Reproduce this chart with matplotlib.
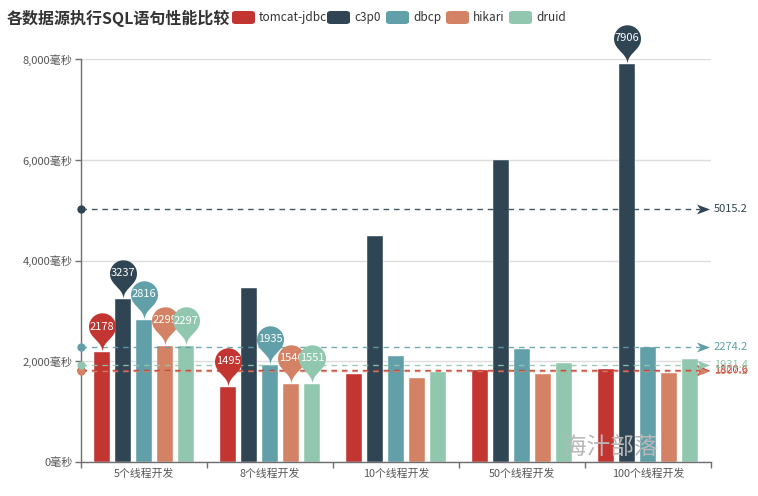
import matplotlib
matplotlib.use('Agg')
import matplotlib.pyplot as plt
import numpy as np
from matplotlib.path import Path
from matplotlib.patches import FancyBboxPatch

plt.rcParams['font.family'] = ['Noto Sans CJK SC', 'DejaVu Sans']

# ---------------- data ----------------
categories = ['5个线程开发', '8个线程开发', '10个线程开发', '50个线程开发', '100个线程开发']
series_names = ['tomcat-jdbc', 'c3p0', 'dbcp', 'hikari', 'druid']
tomcat_jdbc = [2178, 1495, 1755, 1820, 1855]
c3p0 = [3237, 3445, 4488, 6000, 7906]
dbcp = [2816, 1935, 2095, 2245, 2280]
hikari = [2299, 1546, 1677, 1747, 1767]
druid = [2297, 1551, 1795, 1975, 2039]
yticks = [0, 2000, 4000, 6000, 8000]
title = '各数据源执行SQL语句性能比较'
watermark = '海汁部落'
colors = ['#c23531', '#2f4554', '#61a0a8', '#d48265', '#91c7ae']

series = [tomcat_jdbc, c3p0, dbcp, hikari, druid]

W, H = 758, 496
fig = plt.figure(figsize=(W / 100, H / 100), dpi=100)


def fx(px):
    return px / W


def fy(py):
    return 1 - py / H


ax_l, ax_r, ax_t, ax_b = 81, 711, 59, 462
ax = fig.add_axes([fx(ax_l), fy(ax_b), fx(ax_r - ax_l), (ax_b - ax_t) / H])

n = len(categories)
x = np.arange(n)
pitch = 0.1667
bw = 0.13


def pin_path():
    w = 0.6
    h = 1.0
    r = w / 2
    dy = r * r / (h - r)
    c = h - r - dy
    a = np.arcsin(dy / r)
    dx = np.cos(a) * r
    tanX, tanY = np.sin(a), np.cos(a)
    cp, cp2 = r * 0.6, r * 0.7
    verts, codes = [], []
    angs = np.linspace(np.pi + a, -a, 41)
    for i, t in enumerate(angs):
        verts.append((r * np.cos(t), c + r * np.sin(t)))
        codes.append(Path.MOVETO if i == 0 else Path.LINETO)
    verts += [(dx - tanX * cp, c - dy - tanY * cp), (0, cp2), (0, 0)]
    codes += [Path.CURVE4] * 3
    verts += [(0, cp2), (-dx + tanX * cp, c - dy - tanY * cp), (-dx, c - dy)]
    codes += [Path.CURVE4] * 3
    verts.append((0, 0))
    codes.append(Path.CLOSEPOLY)
    return Path(verts, codes), c


PIN, pin_c = pin_path()
S_px = 45.0
pin_ms = 0.8714 * S_px * 2 * 0.72
pin_text_off = pin_c * S_px * 0.72

arrow_path = Path([(1, 0), (-1, 0.75), (-0.45, 0), (-1, -0.75), (1, 0)],
                  [Path.MOVETO, Path.LINETO, Path.LINETO, Path.LINETO, Path.CLOSEPOLY])

# bars
for i, (vals, col) in enumerate(zip(series, colors)):
    ax.bar(x + (i - 2) * pitch, vals, width=bw, color=col, zorder=2,
           edgecolor='white', linewidth=0.3)

# average mark lines
ytr = ax.get_yaxis_transform()
line_end = (700 - ax_l) / (ax_r - ax_l)
arrow_c = (702.5 - ax_l) / (ax_r - ax_l)
lab_x = (714 - ax_l) / (ax_r - ax_l)
for i, (vals, col) in enumerate(zip(series, colors)):
    avg = float(np.mean(vals))
    ax.plot([0, line_end], [avg, avg], transform=ytr, color=col, lw=1.0,
            dashes=(4, 3.5), zorder=4, clip_on=False, alpha=0.9)
    ax.plot([0], [avg], transform=ytr, marker='o', ms=6, color=col,
            zorder=5, clip_on=False, mew=0)
    ax.plot([arrow_c], [avg], transform=ytr, marker=arrow_path, ms=9.5,
            color=col, zorder=5, clip_on=False, mew=0)
    ax.text(lab_x, avg, f'{avg:.1f}', transform=ytr, color=col, fontsize=8,
            va='center', ha='left', clip_on=False, zorder=6)

# min / max pins
for i, (vals, col) in enumerate(zip(series, colors)):
    xs = x + (i - 2) * pitch
    for idx in (int(np.argmax(vals)), int(np.argmin(vals))):
        ax.plot([xs[idx]], [vals[idx]], marker=PIN, ms=pin_ms, color=col,
                mew=0, zorder=7 + i, clip_on=False, linestyle='none')
        ax.annotate(str(vals[idx]), (xs[idx], vals[idx]),
                    xytext=(0, pin_text_off), textcoords='offset points',
                    ha='center', va='center', color='white', fontsize=8,
                    zorder=7 + i + 0.5, annotation_clip=False)

# axes styling
ax.set_xlim(-0.5, n - 0.5)
ax.set_ylim(0, 8000)
ax.set_yticks(yticks)
ax.set_yticklabels([f'{v:,}毫秒' for v in yticks], fontsize=8, color='#555555')
ax.set_xticks(np.arange(n + 1) - 0.5)
ax.set_xticklabels([])
ax.set_xticks(x, minor=True)
ax.set_xticklabels(categories, minor=True, fontsize=7.8, color='#555555')
ax.tick_params(axis='x', which='minor', length=0, pad=5)
ax.tick_params(axis='x', which='major', length=4, color='#6e6e6e', width=1)
ax.tick_params(axis='y', length=4, color='#6e6e6e', width=1, pad=2)
ax.yaxis.grid(True, color='#dddddd', lw=1, zorder=0)
ax.set_axisbelow(True)
for s in ('top', 'right'):
    ax.spines[s].set_visible(False)
for s in ('left', 'bottom'):
    ax.spines[s].set_color('#6e6e6e')
    ax.spines[s].set_linewidth(1)

# title
fig.text(fx(7), fy(18), title, fontsize=11.5, fontweight='bold', color='#333333',
         ha='left', va='center')

# legend
leg_rects = [232, 327, 386, 446, 509]
for name, col, lx in zip(series_names, colors, leg_rects):
    p = FancyBboxPatch((fx(lx), fy(24)), fx(23), 13 / H,
                       boxstyle='round,pad=0,rounding_size=0.005',
                       transform=fig.transFigure, color=col, lw=0)
    fig.patches.append(p)
    fig.text(fx(lx + 27), fy(17.5), name, fontsize=8.5, color='#333333',
             ha='left', va='center')

# watermark
fig.text(fx(563), fy(447), watermark, fontsize=17, color='#b8b8b8',
         fontweight='light', ha='left', va='center', zorder=20)

fig.savefig('out.png', dpi=100)
